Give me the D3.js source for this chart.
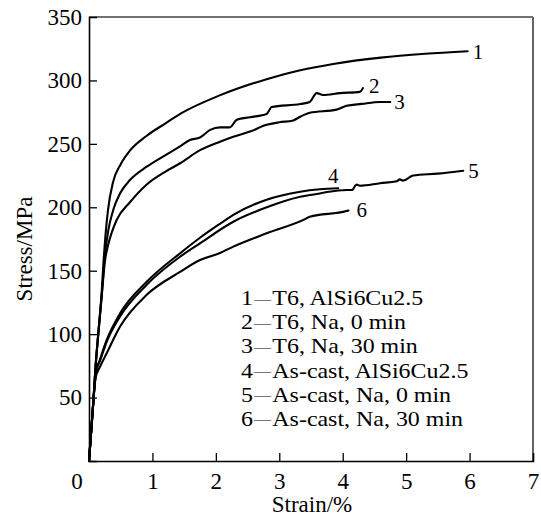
<!DOCTYPE html>
<html><head><meta charset="utf-8">
<script src="https://cdn.jsdelivr.net/npm/d3@7/dist/d3.min.js"></script>
<style>
html,body{margin:0;padding:0;background:#fff;}
svg{display:block;}
text{font-family:"Liberation Serif","Times New Roman",serif;fill:#000;}
</style></head>
<body>
<svg id="chart" width="541" height="516"></svg>
<script>
// ---- data ----
const strain1 = [0,0.04,0.07,0.1,0.15,0.2,0.23,0.26,0.3,0.38,0.5,0.65,0.9,1.2,1.45,2.05,2.8,3.33,3.85,4.6,5.3,5.97];
const stress1 = [0,27,48,72,103,133,158,178,198,220,234,245,256,266,274,288,301,308,313,318,321,323];

const strain2 = [0,0.04,0.07,0.1,0.15,0.2,0.25,0.305,0.383,0.49,0.646,0.91,1.2,1.435,1.59,1.75,1.91,2.065,2.22,2.33,2.54,2.80,2.88,3.33,3.48,3.59,3.69,3.96,4.27,4.32];
const stress2 = [0,27,48,72,102,130,162,182,198,211,221.5,232,241,248,253,255,261,263,263,269,271,273.5,279,281.4,283,290,288.5,290,291,294];

const strain3 = [0,0.04,0.07,0.1,0.15,0.2,0.25,0.3,0.358,0.436,0.646,0.91,1.2,1.435,1.75,2.065,2.275,2.55,2.80,3.0,3.22,3.33,3.48,3.90,4.06,4.3,4.59,4.75];
const stress3 = [0,27,48,72,102,130,157,170,180,190,204,218,228,234.7,245,251.7,255.6,260,265,267,268.5,271.4,274.5,277,280,281.5,283,283];

const strain4 = [0,0.04,0.07,0.1,0.12,0.173,0.279,0.49,0.91,1.435,1.75,2.065,2.275,2.80,3.33,3.64,3.93];
const stress4 = [0,27,48,65,72,80,95.4,116.4,141.3,163.7,176,187,194,206,212.3,214.2,215];

const strain5 = [0,0.04,0.07,0.1,0.12,0.173,0.279,0.49,0.91,1.435,1.75,2.275,2.75,3.33,3.59,3.75,4.06,4.15,4.19,4.22,4.27,4.59,4.85,4.90,4.95,5.11,5.5,5.9];
const stress5 = [0,27,48,65,72,79,94,114,139,161,171.6,188.6,199,208.3,210.5,212,213.6,213.6,216.5,218,217,219,220.5,222,221,225,226.5,228.8];

const strain6 = [0,0.04,0.07,0.1,0.173,0.279,0.49,0.91,1.435,1.75,2.065,2.275,2.80,3.43,3.48,4.06,4.09];
const stress6 = [0,27,48,65,74.3,85,106,131,149,158.4,164,169,179.5,191.3,192.6,197,197.5];

const curveIds = ["1","2","3","4","5","6"];
const legendLabels = [
  "T6, AlSi6Cu2.5",
  "T6, Na, 0 min",
  "T6, Na, 30 min",
  "As-cast, AlSi6Cu2.5",
  "As-cast, Na, 0 min",
  "As-cast, Na, 30 min"
];
const xTicks = [1,2,3,4,5,6,7];
const yTicks = [50,100,150,200,250,300,350];
const xTitle = "Strain/%";
const yTitle = "Stress/MPa";

// ---- layout ----
const svg = d3.select("#chart");
const L = 89, R = 533, T = 17, B = 461;
const x = d3.scaleLinear().domain([0,7]).range([L,R]);
const y = d3.scaleLinear().domain([0,350]).range([B,T]);

const series = [
  [strain1,stress1],[strain2,stress2],[strain3,stress3],
  [strain4,stress4],[strain5,stress5],[strain6,stress6]
].map(([xs,ys],i)=>({id:curveIds[i], pts:xs.map((v,j)=>[v,ys[j]])}));

// label offsets (px) relative to curve end
const labelOff = {"1":[5,8,"start"],"2":[6,5,"start"],"3":[4,7,"start"],"4":[-5,-5,"middle"],"5":[5,7,"start"],"6":[8,7,"start"]};

// frame (top/right)
svg.append("line").attr("x1",L).attr("x2",R).attr("y1",T).attr("y2",T)
  .attr("stroke","#444").attr("stroke-width",1.5);
svg.append("line").attr("x1",R).attr("x2",R).attr("y1",T).attr("y2",B)
  .attr("stroke","#666").attr("stroke-width",2);

// axes
const xAxis = d3.axisBottom(x).tickValues(xTicks).tickSize(-8).tickPadding(12).tickFormat(d3.format("d"));
const gx = svg.append("g").attr("transform",`translate(0,${B})`).call(xAxis);
const yAxis = d3.axisLeft(y).tickValues(yTicks).tickSize(-8).tickPadding(7).tickFormat(d3.format("d"));
const gy = svg.append("g").attr("transform",`translate(${L},0)`).call(yAxis);
[gx,gy].forEach(g=>{
  g.select(".domain").attr("stroke","#000").attr("stroke-width",1.6);
  g.selectAll(".tick line").attr("stroke","#000").attr("stroke-width",1.3);
  g.selectAll(".tick text").attr("font-family","Liberation Serif, Times New Roman, serif")
    .attr("font-size",23).attr("fill","#000");
});
gx.selectAll(".tick text").attr("dy","0.71em");
gx.selectAll(".tick").filter(d=>d===7).select("line").remove();
gy.selectAll(".tick").filter(d=>d===350).select("line").remove();
// corner zero
svg.append("text").attr("x",x(0)-12).attr("y",y(0)+12).attr("dy","0.71em")
  .attr("text-anchor","middle").attr("font-size",23).text("0");

// axis titles
svg.append("text").attr("x",(L+R)/2+1).attr("y",512).attr("text-anchor","middle")
  .attr("font-size",23).text(xTitle);
svg.append("text").attr("transform",`translate(32,249) rotate(-90)`)
  .attr("text-anchor","middle").attr("font-size",23).text(yTitle);

// curves
const line = d3.line().x(d=>x(d[0])).y(d=>y(d[1])).curve(d3.curveMonotoneX);
svg.append("g").selectAll("path").data(series).join("path")
  .attr("d",d=>line(d.pts)).attr("fill","none").attr("stroke","#000")
  .attr("stroke-width",2.1).attr("stroke-linejoin","round").attr("stroke-linecap","round");

// curve labels
svg.append("g").selectAll("text").data(series).join("text")
  .attr("x",d=>{const p=d.pts[d.pts.length-1]; return x(p[0])+labelOff[d.id][0];})
  .attr("y",d=>{const p=d.pts[d.pts.length-1]; return y(p[1])+labelOff[d.id][1];})
  .attr("text-anchor",d=>labelOff[d.id][2])
  .attr("font-size",21).text(d=>d.id);

// legend
const leg = svg.append("g").attr("transform","translate(241,305) scale(1.14,1)");
const lt = leg.selectAll("text").data(legendLabels).join("text")
  .attr("x",0).attr("y",(d,i)=>i*24.2).attr("font-size",21);
lt.append("tspan").text((d,i)=>curveIds[i]);
lt.append("tspan").attr("font-size",15).attr("dx",1).attr("dy",-1.5).text("—");
lt.append("tspan").attr("dy",1.5).attr("dx",1).text(d=>d);
</script>
</body></html>
